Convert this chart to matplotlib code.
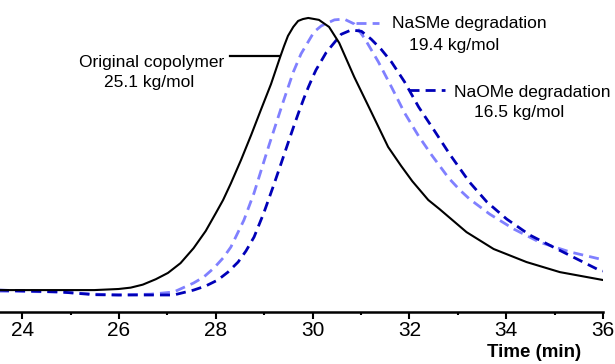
import matplotlib.pyplot as plt

plt.rcParams['font.family'] = ['Liberation Sans', 'DejaVu Sans']

# Cromatogramas GPC (señal normalizada vs tiempo de elución)
tiempo_orig = [23.5, 24.79, 25.49, 25.99, 26.24, 26.49, 26.76, 27.01, 27.27, 27.54, 27.79,
               28.0, 28.15, 28.31, 28.52, 28.73, 28.93, 29.14, 29.33, 29.41, 29.49, 29.6,
               29.7, 29.8, 29.91, 30.13, 30.34, 30.55, 30.86, 31.21, 31.56, 31.83, 32.06,
               32.39, 32.62, 32.91, 33.18, 33.74, 34.42, 35.11, 36.0]
senal_orig = [0.0, 0.0, 0.0, 0.004, 0.009, 0.020, 0.040, 0.063, 0.099, 0.154, 0.217,
              0.283, 0.331, 0.392, 0.478, 0.570, 0.662, 0.757, 0.857, 0.897, 0.934, 0.967,
              0.989, 0.996, 1.0, 0.993, 0.967, 0.908, 0.783, 0.655, 0.526, 0.456, 0.400,
              0.331, 0.298, 0.254, 0.213, 0.151, 0.103, 0.066, 0.037]

tiempo_nasme = [23.5, 24.79, 25.49, 25.99, 26.65, 27.13, 27.54, 27.75, 27.96, 28.15, 28.31,
                28.58, 28.79, 29.1, 29.39, 29.6, 29.76, 30.03, 30.18, 30.45, 30.65, 30.86,
                31.07, 31.36, 31.63, 31.9, 32.19, 32.46, 32.81, 33.04, 33.24, 33.66, 34.16,
                34.69, 35.32, 35.94, 36.0]
senal_nasme = [-0.004, -0.007, -0.015, -0.018, -0.015, -0.007, 0.026, 0.048, 0.081, 0.118, 0.158,
               0.257, 0.357, 0.533, 0.691, 0.801, 0.868, 0.949, 0.971, 0.993, 0.996, 0.978,
               0.926, 0.838, 0.746, 0.651, 0.566, 0.496, 0.412, 0.368, 0.335, 0.279, 0.224,
               0.176, 0.140, 0.114, 0.111]

tiempo_naome = [23.5, 24.79, 25.49, 25.99, 27.13, 27.54, 27.79, 28.04, 28.25, 28.46, 28.62,
                28.79, 28.99, 29.2, 29.35, 29.51, 29.62, 29.72, 29.82, 29.91, 30.01, 30.07,
                30.28, 30.59, 30.8, 31.01, 31.21, 31.42, 31.63, 31.9, 32.19, 32.5, 32.83,
                33.24, 33.6, 34.01, 34.49, 35.05, 35.88, 36.0]
senal_naome = [0.0, -0.007, -0.017, -0.018, -0.018, 0.0, 0.015, 0.037, 0.066, 0.103, 0.143,
               0.195, 0.283, 0.388, 0.466, 0.550, 0.607, 0.657, 0.705, 0.745, 0.786, 0.809,
               0.873, 0.940, 0.956, 0.951, 0.922, 0.884, 0.838, 0.765, 0.673, 0.590, 0.500,
               0.397, 0.324, 0.261, 0.202, 0.151, 0.077, 0.070]

ticks_x = [24, 26, 28, 30, 32, 34, 36]

azul_claro = '#8080FF'
azul_oscuro = '#0000B8'
guion = (3.6, 2.2)

fig = plt.figure(figsize=(6.15, 3.64), dpi=100)
ax = fig.add_axes([0.0, 0.144, 603 / 615, 0.856])

ax.plot(tiempo_nasme, senal_nasme, color=azul_claro, lw=2.0, dashes=guion)
ax.plot(tiempo_naome, senal_naome, color=azul_oscuro, lw=2.0, dashes=guion)
ax.plot(tiempo_orig, senal_orig, color='black', lw=1.5)

# Líneas guía de las etiquetas
ax.plot([28.29, 29.3], [0.86, 0.86], color='black', lw=1.6)
ax.plot([30.9, 31.38], [0.983, 0.983], color=azul_claro, lw=2.0, dashes=guion)
ax.plot([32.0, 32.73], [0.735, 0.735], color=azul_oscuro, lw=2.0, dashes=guion)

# Etiquetas
fs = 12.5
ax.text(26.68, 0.821, 'Original copolymer', fontsize=fs, ha='center', va='baseline')
ax.text(26.63, 0.747, '25.1 kg/mol', fontsize=fs, ha='center', va='baseline')
ax.text(33.23, 0.962, 'NaSMe degradation', fontsize=fs, ha='center', va='baseline')
ax.text(32.92, 0.882, '19.4 kg/mol', fontsize=fs, ha='center', va='baseline')
ax.text(34.53, 0.711, 'NaOMe degradation', fontsize=fs, ha='center', va='baseline')
ax.text(34.27, 0.637, '16.5 kg/mol', fontsize=fs, ha='center', va='baseline')

# Ejes
ax.set_xlim(23.54, 36.0)
ax.set_ylim(-0.079, 1.066)
for lado in ['left', 'top', 'right']:
    ax.spines[lado].set_visible(False)
ax.spines['bottom'].set_linewidth(1.8)
ax.set_yticks([])
ax.set_xticks(ticks_x)
ax.set_xticks([25, 27, 29, 31, 33, 35], minor=True)
ax.tick_params(axis='x', which='major', length=5, width=1.5, labelsize=15, pad=2)
ax.tick_params(axis='x', which='minor', length=2.5, width=1.5)

fig.text(581 / 615, 7.3 / 364, 'Time (min)', fontsize=13.5, fontweight='bold',
         ha='right', va='baseline')

plt.savefig('out.png', dpi=100)
